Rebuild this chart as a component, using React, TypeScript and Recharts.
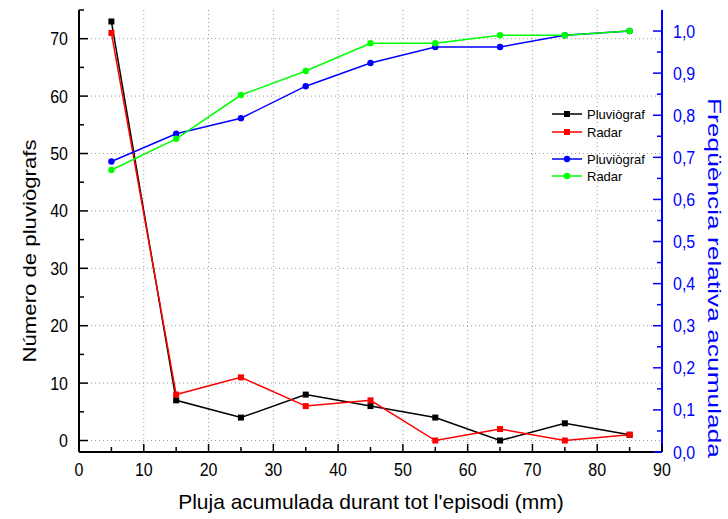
import React from 'react';
import { LineChart, Line, XAxis, YAxis, CartesianGrid, Label } from 'recharts';

// pluja acumulada (mm), centre de cada interval
const rainfall = [5, 15, 25, 35, 45, 55, 65, 75, 85];
// nombre de pluviògrafs per interval
const countGauge = [73, 7, 4, 8, 6, 4, 0, 3, 1];
const countRadar = [71, 8, 11, 6, 7, 0, 2, 0, 1];
// freqüència relativa acumulada
const cumGauge = [0.69, 0.756, 0.793, 0.869, 0.924, 0.962, 0.962, 0.99, 1.0];
const cumRadar = [0.67, 0.744, 0.848, 0.905, 0.971, 0.971, 0.99, 0.99, 1.0];

const xTicks = [0, 5, 10, 15, 20, 25, 30, 35, 40, 45, 50, 55, 60, 65, 70, 75, 80, 85, 90];
const xGrid = [10, 20, 30, 40, 50, 60, 70, 80];
const leftTicks = [0, 5, 10, 15, 20, 25, 30, 35, 40, 45, 50, 55, 60, 65, 70, 75];
const leftGrid = [0, 10, 20, 30, 40, 50, 60, 70];
const rightTicks = [0, 0.05, 0.1, 0.15, 0.2, 0.25, 0.3, 0.35, 0.4, 0.45, 0.5, 0.55, 0.6, 0.65, 0.7, 0.75, 0.8, 0.85, 0.9, 0.95, 1.0];

const data = rainfall.map((x, i) => ({
  x,
  gauge: countGauge[i],
  radar: countRadar[i],
  cumGauge: cumGauge[i],
  cumRadar: cumRadar[i],
}));

const W = 728;
const H = 519;
const FONT = '"Liberation Sans", Arial, sans-serif';
const BLUE = '#0000ff';
const GREEN = '#00ff00';
const RED = '#ff0000';

const isMajor = (v: number, step: number) => Math.abs(v / step - Math.round(v / step)) < 1e-6;

// tick labels in the original are a bit taller than wide
function TallText({ x, y, anchor, fill, children }: any) {
  return (
    <text transform={`translate(${x},${y}) scale(1,1.12)`} textAnchor={anchor} fontSize={16} fontFamily={FONT} fill={fill}>
      {children}
    </text>
  );
}

function BottomTick({ x, y, payload }: any) {
  const v = payload.value as number;
  const major = isMajor(v, 10);
  return (
    <g>
      <line x1={x} x2={x} y1={y} y2={y - (major ? 8 : 5)} stroke="#000" strokeWidth={1.5} />
      {major && <TallText x={x} y={y + 24} anchor="middle" fill="#000">{v}</TallText>}
    </g>
  );
}

function TopTick({ x, y }: any) {
  return <line x1={x} x2={x} y1={y} y2={y + 9} stroke="#000" strokeWidth={1.5} />;
}

function LeftTick({ x, y, payload }: any) {
  const v = payload.value as number;
  const major = isMajor(v, 10);
  return (
    <g>
      <line x1={x} x2={x + (major ? 9 : 5)} y1={y} y2={y} stroke="#000" strokeWidth={1.5} />
      {major && <TallText x={x - 11} y={y + 6.5} anchor="end" fill="#000">{v}</TallText>}
    </g>
  );
}

function RightTick({ x, y, payload }: any) {
  const v = payload.value as number;
  const major = isMajor(v, 0.1);
  return (
    <g>
      <line x1={x} x2={x - (major ? 9 : 5)} y1={y} y2={y} stroke={BLUE} strokeWidth={1.5} />
      {major && (
        <TallText x={x + 11} y={y + 6.5} anchor="start" fill={BLUE}>
          {v.toFixed(1).replace('.', ',')}
        </TallText>
      )}
    </g>
  );
}

const square = (color: string) => (p: any) => (
  <rect key={`sq-${color}-${p.index}`} x={p.cx - 3} y={p.cy - 3} width={6} height={6} fill={color} />
);
const circle = (color: string) => (p: any) => (
  <circle key={`ci-${color}-${p.index}`} cx={p.cx} cy={p.cy} r={3.2} fill={color} />
);

const legendItems = [
  { label: 'Pluviògraf', color: '#000', shape: 'square', top: 114 },
  { label: 'Radar', color: RED, shape: 'square', top: 132 },
  { label: 'Pluviògraf', color: BLUE, shape: 'circle', top: 159 },
  { label: 'Radar', color: GREEN, shape: 'circle', top: 176 },
];

function LegendBox() {
  return (
    <div style={{ position: 'absolute', left: 550, top: 0, fontFamily: FONT, fontSize: 13 }}>
      {legendItems.map((it, i) => (
        <div key={i} style={{ position: 'absolute', top: it.top - 8, left: 0, display: 'flex', alignItems: 'center', height: 16, whiteSpace: 'nowrap' }}>
          <svg width={34} height={16}>
            <line x1={2} x2={32} y1={8} y2={8} stroke={it.color} strokeWidth={1.5} />
            {it.shape === 'square'
              ? <rect x={14} y={5} width={6} height={6} fill={it.color} />
              : <circle cx={17} cy={8} r={3.2} fill={it.color} />}
          </svg>
          <span style={{ marginLeft: 3, color: '#000' }}>{it.label}</span>
        </div>
      ))}
    </div>
  );
}

export default function App() {
  return (
    <div style={{ position: 'absolute', left: 0, top: 0, width: W, height: H, background: '#fff' }}>
      <LineChart width={W} height={H} data={data} margin={{ top: 10, right: 0, bottom: 0, left: 0 }}>
        <CartesianGrid
          xAxisId="bottom"
          yAxisId="left"
          horizontalValues={leftGrid}
          verticalValues={xGrid}
          stroke="#9a9a9a"
          strokeDasharray="1 3"
        />
        <XAxis
          xAxisId="bottom"
          dataKey="x"
          type="number"
          domain={[0, 90]}
          ticks={xTicks}
          interval={0}
          height={67}
          tickSize={0}
          tickMargin={0}
          tickLine={false}
          tick={<BottomTick />}
          axisLine={{ stroke: '#000', strokeWidth: 2 }}
        >
          <Label
            content={() => (
              <text x={371} y={509} textAnchor="middle" fontSize={21} fontFamily={FONT} fill="#000">
                Pluja acumulada durant tot l'episodi (mm)
              </text>
            )}
          />
        </XAxis>
        <XAxis
          xAxisId="top"
          orientation="top"
          dataKey="x"
          type="number"
          domain={[0, 90]}
          ticks={xTicks}
          interval={0}
          height={0}
          tickSize={0}
          tickMargin={0}
          tickLine={false}
          tick={<TopTick />}
          axisLine={{ stroke: '#000', strokeWidth: 2 }}
        />
        <YAxis
          yAxisId="left"
          type="number"
          domain={[-2, 75]}
          ticks={leftTicks}
          interval={0}
          width={79}
          tickSize={0}
          tickMargin={0}
          tickLine={false}
          tick={<LeftTick />}
          axisLine={{ stroke: '#000', strokeWidth: 2 }}
        >
          <Label
            content={() => (
              <text
                transform="translate(36,251) rotate(-90)"
                textAnchor="middle"
                fontSize={18}
                fontFamily={FONT}
                fill="#000"
                textLength={223}
                lengthAdjust="spacingAndGlyphs"
              >
                Número de pluviògrafs
              </text>
            )}
          />
        </YAxis>
        <YAxis
          yAxisId="right"
          orientation="right"
          type="number"
          domain={[0, 1.05]}
          ticks={rightTicks}
          interval={0}
          width={66}
          tickSize={0}
          tickMargin={0}
          tickLine={false}
          tick={<RightTick />}
          axisLine={{ stroke: BLUE, strokeWidth: 2 }}
        >
          <Label
            content={() => (
              <text
                transform="translate(708,278) rotate(90)"
                textAnchor="middle"
                fontSize={19}
                fontFamily={FONT}
                fill={BLUE}
                textLength={360}
                lengthAdjust="spacingAndGlyphs"
              >
                Freqüència relativa acumulada
              </text>
            )}
          />
        </YAxis>

        <Line xAxisId="bottom" yAxisId="left" dataKey="gauge" stroke="#000" strokeWidth={1.5}
          dot={square('#000')} activeDot={false} isAnimationActive={false} />
        <Line xAxisId="bottom" yAxisId="left" dataKey="radar" stroke={RED} strokeWidth={1.5}
          dot={square(RED)} activeDot={false} isAnimationActive={false} />
        <Line xAxisId="bottom" yAxisId="right" dataKey="cumGauge" stroke={BLUE} strokeWidth={1.5}
          dot={circle(BLUE)} activeDot={false} isAnimationActive={false} />
        <Line xAxisId="bottom" yAxisId="right" dataKey="cumRadar" stroke={GREEN} strokeWidth={1.5}
          dot={circle(GREEN)} activeDot={false} isAnimationActive={false} />
      </LineChart>
      <LegendBox />
    </div>
  );
}
